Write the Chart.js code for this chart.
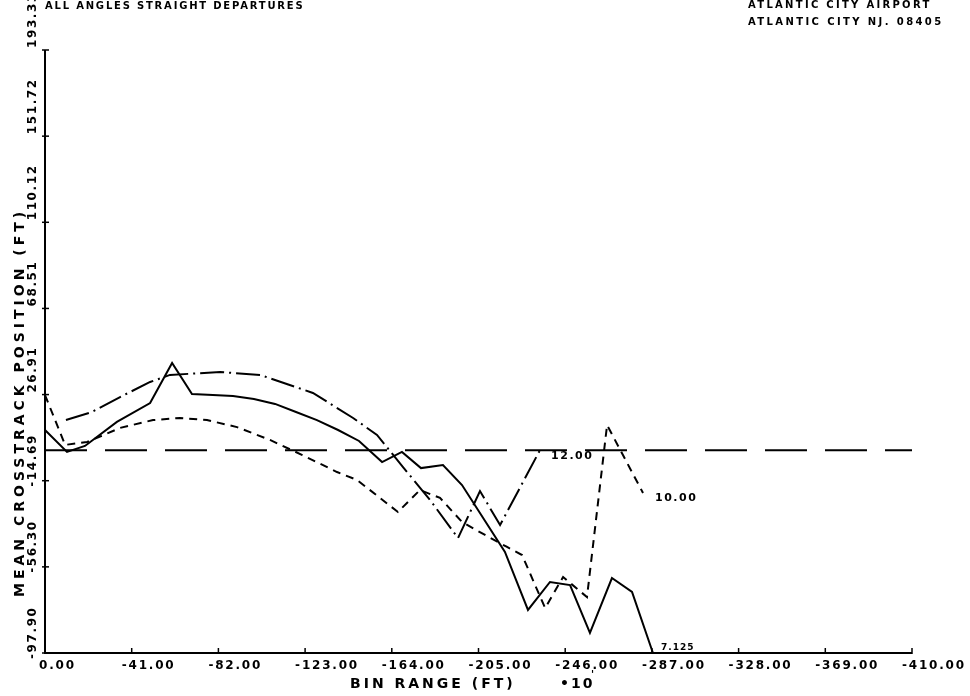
<!DOCTYPE html>
<html>
<head>
<meta charset="utf-8">
<script src="https://cdn.jsdelivr.net/npm/chart.js@4"></script>
<style>
  html, body { margin: 0; padding: 0; background: #fff; }
  #wrap { width: 970px; height: 696px; }
</style>
</head>
<body>
<div id="wrap"><canvas id="myChart" width="970" height="696"></canvas></div>
<script>
// tick values of both axes
var xTicks = [0, -41, -82, -123, -164, -205, -246, -287, -328, -369, -410];
var yTicks = [-97.90, -56.30, -14.69, 26.91, 68.51, 110.12, 151.72, 193.33];

// solid curve (labelled 7.125)
var solidX = [0, -10.4, -18.9, -34.0, -49.7, -60.1, -69.5, -79.4, -88.9, -98.8, -108.8, -118.7, -128.6, -138.6, -148.5, -159.4, -168.8, -177.8, -188.2, -197.2, -217.5, -228.4, -238.8, -248.3, -257.7, -268.1, -277.6, -287.5];
var solidY = [9.8, -0.8, 2.1, 13.7, 22.8, 42.2, 27.2, 26.7, 26.2, 24.8, 22.4, 18.5, 14.6, 9.8, 4.5, -5.7, -0.8, -8.6, -7.1, -16.8, -49.1, -77.1, -63.6, -65.1, -88.2, -61.7, -68.4, -97.9];

// dash-dot curve (labelled 12.00)
var dashDotX = [-9.9, -22.2, -35.5, -49.7, -59.1, -82.8, -101.7, -126.7, -145.7, -157.0, -169.3, -182.1, -195.3, -205.7, -215.2, -234.6];
var dashDotY = [14.6, 18.5, 25.7, 33.0, 36.4, 37.8, 36.4, 27.7, 15.6, 7.4, -8.1, -24.0, -42.4, -19.7, -36.1, 1.1];

// short dash curve (labelled 10.00)
var dashX = [0, -9.5, -19.9, -35.5, -51.1, -63.8, -76.6, -90.8, -106.4, -121.7, -138.1, -147.5, -166.9, -177.3, -186.8, -197.2, -208.1, -218.5, -225.6, -236.5, -245.0, -256.3, -265.8, -282.8];
var dashY = [26.7, 2.6, 4.0, 10.8, 14.6, 15.6, 14.6, 11.2, 5.0, -2.3, -10.5, -14.3, -29.8, -19.2, -23.0, -34.6, -40.9, -46.7, -50.6, -76.2, -61.2, -70.9, 12.2, -20.6];

// reference line at zero
var zeroX = [0, -410];
var zeroY = [0, 0];

function pares(xs, ys) {
    return xs.map(function (v, i) { return { x: v, y: ys[i] }; });
}

function serie(xs, ys, dash) {
    return {
        data: pares(xs, ys),
        borderColor: '#000',
        borderWidth: 2,
        borderDash: dash,
        pointRadius: 0,
        tension: 0,
        fill: false,
        clip: false
    };
}

function texto(ctx, s, x, y, font, spacing, align, base) {
    ctx.font = font;
    ctx.letterSpacing = spacing;
    ctx.textAlign = align || 'left';
    ctx.textBaseline = base || 'middle';
    ctx.fillText(s, x, y);
}

var papel = {
    id: 'papel',
    beforeDraw: function (chart) {
        var ctx = chart.ctx;
        ctx.save();
        ctx.fillStyle = '#fff';
        ctx.fillRect(0, 0, chart.width, chart.height);
        ctx.restore();
    },
    afterDraw: function (chart) {
        var ctx = chart.ctx;
        var a = chart.chartArea;
        var sx = chart.scales.x;
        var sy = chart.scales.y;
        var fTick = 'bold 12px "DejaVu Sans"';
        ctx.save();
        ctx.strokeStyle = '#000';
        ctx.fillStyle = '#000';
        ctx.lineWidth = 2;

        // eixos
        ctx.beginPath();
        ctx.moveTo(a.left, a.top);
        ctx.lineTo(a.left, a.bottom);
        ctx.lineTo(a.right, a.bottom);
        ctx.stroke();

        ctx.lineWidth = 1.5;
        xTicks.forEach(function (v) {
            var px = sx.getPixelForValue(v);
            ctx.beginPath();
            ctx.moveTo(px, a.bottom - 5);
            ctx.lineTo(px, a.bottom + 1);
            ctx.stroke();
            texto(ctx, v.toFixed(2), px - (v < 0 ? 10 : 6), a.bottom + 7, fTick, '1.8px', 'left', 'top');
        });
        yTicks.forEach(function (v) {
            var py = sy.getPixelForValue(v);
            ctx.beginPath();
            ctx.moveTo(a.left - 3, py);
            ctx.lineTo(a.left + 4, py);
            ctx.stroke();
            ctx.save();
            ctx.translate(a.left - 12, py + (v < 0 ? 6 : -2));
            ctx.rotate(-Math.PI / 2);
            texto(ctx, v.toFixed(2), 0, 0, fTick, '1.6px', 'left', 'middle');
            ctx.restore();
        });

        // titulos dos eixos
        texto(ctx, 'BIN RANGE (FT)', 350, 684, 'bold 14px "DejaVu Sans"', '3px', 'left', 'middle');
        texto(ctx, '\u202210', 560, 684, 'bold 14px "DejaVu Sans"', '2px', 'left', 'middle');
        texto(ctx, "'", 591, 675, 'bold 10px "DejaVu Sans"', '0px', 'left', 'middle');
        ctx.save();
        ctx.translate(20, 597);
        ctx.rotate(-Math.PI / 2);
        texto(ctx, 'MEAN CROSSTRACK POSITION (FT)', 0, 0, 'bold 14px "DejaVu Sans"', '4px', 'left', 'middle');
        ctx.restore();

        // cabecalho
        var fHead = 'bold 10px "DejaVu Sans"';
        texto(ctx, 'ALL ANGLES STRAIGHT DEPARTURES', 45, 6, fHead, '1.8px', 'left', 'middle');
        texto(ctx, 'ATLANTIC CITY AIRPORT', 748, 5, fHead, '2.3px', 'left', 'middle');
        texto(ctx, 'ATLANTIC CITY NJ. 08405', 748, 22, fHead, '2.4px', 'left', 'middle');

        // rotulos das curvas
        var f = 'bold 11px "DejaVu Sans"';
        texto(ctx, '12.00', sx.getPixelForValue(dashDotX[dashDotX.length - 1]) + 10, sy.getPixelForValue(dashDotY[dashDotY.length - 1]) + 8, f, '1.5px', 'left', 'middle');
        texto(ctx, '10.00', sx.getPixelForValue(dashX[dashX.length - 1]) + 12, sy.getPixelForValue(dashY[dashY.length - 1]) + 5, f, '1.5px', 'left', 'middle');
        texto(ctx, '7.125', sx.getPixelForValue(solidX[solidX.length - 1]) + 8, sy.getPixelForValue(solidY[solidY.length - 1]) - 5, 'bold 9px "DejaVu Sans"', '1px', 'left', 'middle');
        ctx.restore();
    }
};

var ctx = document.getElementById('myChart').getContext('2d');
var myChart = new Chart(ctx, {
    type: 'line',
    data: {
        datasets: [
            serie(zeroX, zeroY, [42, 18]),
            serie(solidX, solidY, []),
            serie(dashDotX, dashDotY, [24, 5, 2, 5]),
            serie(dashX, dashY, [8, 6])
        ]
    },
    options: {
        responsive: false,
        animation: false,
        layout: { padding: { left: 0, top: 50, right: 58, bottom: 43 } },
        plugins: { legend: { display: false }, tooltip: { enabled: false } },
        scales: {
            x: {
                type: 'linear',
                min: -410,
                max: 0,
                reverse: true,
                grid: { display: false },
                border: { display: false },
                ticks: { display: false },
                afterBuildTicks: function (s) { s.ticks = xTicks.map(function (v) { return { value: v }; }); },
                afterFit: function (s) { s.height = 0; }
            },
            y: {
                type: 'linear',
                min: -97.90,
                max: 193.33,
                grid: { display: false },
                border: { display: false },
                ticks: { display: false },
                afterBuildTicks: function (s) { s.ticks = yTicks.map(function (v) { return { value: v }; }); },
                afterFit: function (s) { s.width = 45; }
            }
        }
    },
    plugins: [papel]
});
</script>
</body>
</html>
